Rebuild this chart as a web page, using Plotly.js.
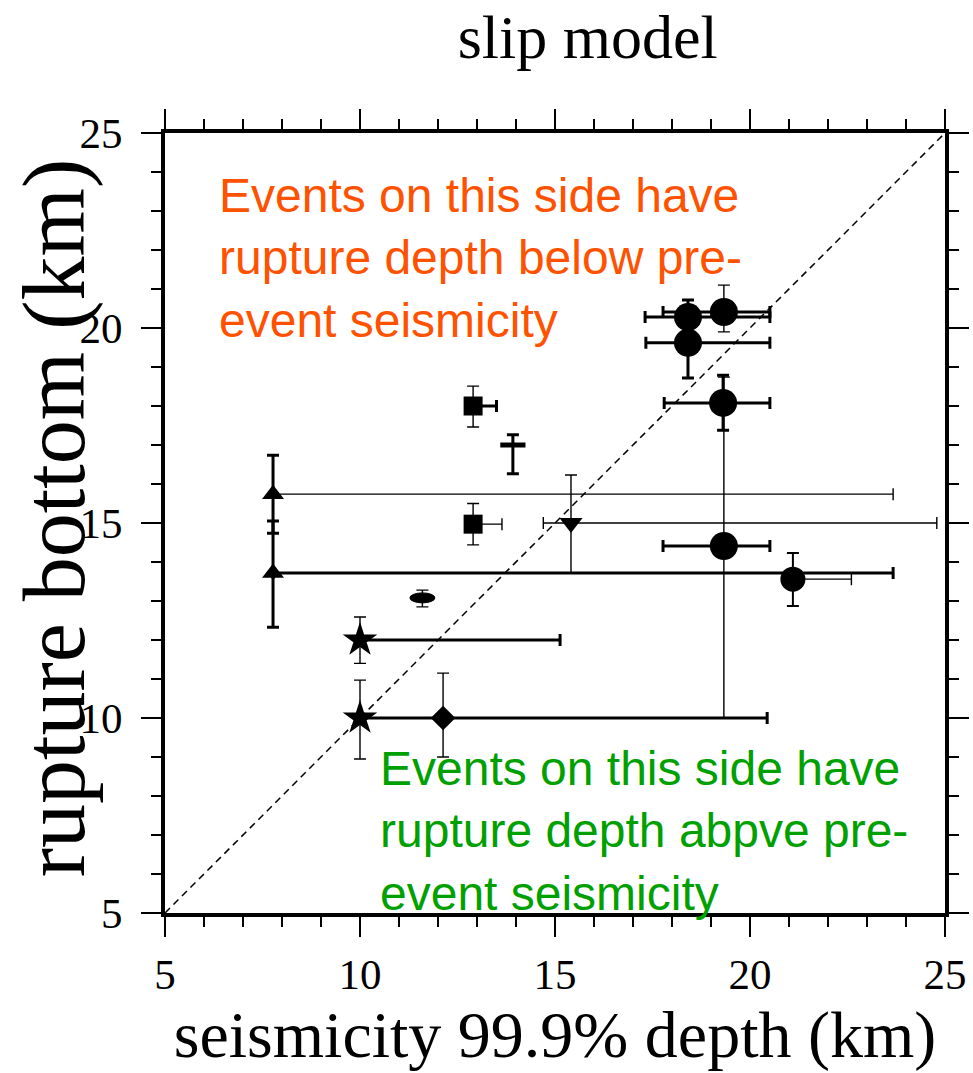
<!DOCTYPE html>
<html>
<head>
<meta charset="utf-8">
<script src="https://cdn.plot.ly/plotly-3.0.1.min.js"></script>
<style>html,body{margin:0;padding:0;background:#fff;}</style>
</head>
<body>
<div id="chart" style="width:973px;height:1073px;"></div>
<script>
// ---------- data ----------
const axisRange = [5, 25];
const majorTicks = [5, 10, 15, 20, 25];
const tickLabels = ['5', '10', '15', '20', '25'];

// seismicity 99.9% depth (km) and its error range
const seisDepth = [18.41, 19.33, 18.41, 19.31, 19.33, 21.10, 7.77, 7.77, 15.41, 12.90, 12.90, 13.92, 11.60, 10.00, 10.00, 12.13];
const seisLow   = [17.31, 17.77, 17.33, 17.80, 17.77, 21.10, 7.77, 7.77, 14.70, 12.90, 12.90, 13.92, 11.60, 10.00, 10.00, 10.00];
const seisHigh  = [20.51, 20.51, 20.51, 20.51, 20.51, 22.60, 23.67, 23.67, 24.79, 13.50, 13.64, 13.92, 11.60, 15.13, 10.00, 20.44];
// rupture bottom (km) and its error range
const ruptureBottom = [20.28, 20.41, 19.62, 18.08, 14.41, 13.56, 15.74, 13.72, 15.00, 18.00, 14.97, 17.00, 13.08, 12.00, 10.00, 10.00];
const ruptureLow    = [19.85, 19.90, 18.72, 17.38, 10.00, 12.87, 14.74, 12.33, 13.72, 17.46, 14.44, 16.26, 12.85, 11.40, 8.95, 9.00];
const ruptureHigh   = [20.72, 21.10, 20.20, 18.79, 18.74, 14.23, 16.74, 15.05, 16.23, 18.51, 15.50, 17.26, 13.28, 12.59, 10.97, 11.15];

const titleText = 'slip model';
const xTitleText = 'seismicity 99.9% depth (km)';
const yTitleText = 'rupture bottom (km)';
const noteAbove = 'Events on this side have<br>rupture depth below pre-<br>event seismicity';
const noteBelow = 'Events on this side have<br>rupture depth abpve pre-<br>event seismicity';

// ---------- styles ----------
const THICK = 3, THIN = 1.4;
const eventStyle = [
  {sym:'circle', size:28, ex:THICK, ey:THICK},
  {sym:'circle', size:28, ex:THICK, ey:THIN},
  {sym:'circle', size:28, ex:THICK, ey:THICK},
  {sym:'circle', size:28, ex:THICK, ey:THICK},
  {sym:'circle', size:28, ex:THICK, ey:THIN},
  {sym:'circle', size:25, ex:THIN, ey:2},
  {sym:'triangle-up', size:19, ex:THIN, ey:THICK},
  {sym:'triangle-up', size:19, ex:THICK, ey:THICK},
  {sym:'triangle-down', size:20, ex:THIN, ey:THIN},
  {sym:'square', size:19, ex:THICK, ey:THIN},
  {sym:'square', size:19, ex:THIN, ey:THIN},
  {sym:'line-ew', size:18, ex:THICK, ey:THICK, lw:5},
  {sym:'ellipse', size:0, ex:THIN, ey:THIN},
  {sym:'star', size:26, ex:THICK, ey:THIN},
  {sym:'star', size:26, ex:THICK, ey:THIN},
  {sym:'diamond', size:19, ex:THICK, ey:THIN}
];

const traces = [];
const shapes = [];

// 1:1 reference line
traces.push({
  x: axisRange, y: axisRange, mode: 'lines', hoverinfo: 'skip',
  line: {color: 'black', width: 1.5, dash: '7px,5px'}
});

seisDepth.forEach((xv, i) => {
  const st = eventStyle[i];
  const yv = ruptureBottom[i];
  const xp = +(seisHigh[i] - xv).toFixed(3), xm = +(xv - seisLow[i]).toFixed(3);
  const yp = +(ruptureHigh[i] - yv).toFixed(3), ym = +(yv - ruptureLow[i]).toFixed(3);
  const t = {
    x: [xv], y: [yv], type: 'scatter', mode: 'markers',
    error_x: {type: 'data', symmetric: false, array: [xp], arrayminus: [xm],
              visible: (xp + xm) > 0, thickness: st.ex, width: 6, color: 'black'},
    error_y: {type: 'data', symmetric: false, array: [yp], arrayminus: [ym],
              visible: (yp + ym) > 0, thickness: st.ey, width: 6, color: 'black'}
  };
  if (st.sym === 'ellipse') {
    t.marker = {size: 1, color: 'rgba(0,0,0,0)'};
    shapes.push({type: 'circle', xref: 'x', yref: 'y', xsizemode: 'pixel', ysizemode: 'pixel',
      xanchor: xv, yanchor: yv, x0: -12.5, x1: 12.5, y0: -5, y1: 5,
      fillcolor: 'black', line: {color: 'black', width: 1}, layer: 'above'});
  } else if (st.sym === 'line-ew') {
    t.marker = {symbol: st.sym, size: st.size, color: 'black', line: {color: 'black', width: st.lw}};
  } else {
    t.marker = {symbol: st.sym, size: st.size, color: 'black', line: {width: 0}};
  }
  traces.push(t);
});

const serif = 'Liberation Serif, Times New Roman, serif';
const sans = 'Liberation Sans, Arial, sans-serif';

const axisCommon = {
  range: axisRange, tickmode: 'array', tickvals: majorTicks, ticktext: tickLabels,
  ticks: 'outside', ticklen: 20, tickwidth: 2, tickcolor: 'black',
  showline: true, linewidth: 4, linecolor: 'black', mirror: 'allticks',
  showgrid: false, zeroline: false, fixedrange: true,
  tickfont: {family: serif, size: 43, color: 'black'},
  minor: {dtick: 1, tick0: 5, ticks: 'outside', ticklen: 10, tickwidth: 2, tickcolor: 'black', showgrid: false}
};

const layout = {
  width: 973, height: 1073,
  margin: {l: 165, r: 28, t: 133, b: 160},
  paper_bgcolor: 'white', plot_bgcolor: 'white',
  showlegend: false,
  title: {text: titleText, font: {family: serif, size: 62, color: 'black'},
          x: 0.604, xref: 'container', xanchor: 'center', y: 0.966, yref: 'container', yanchor: 'middle'},
  xaxis: Object.assign({}, axisCommon, {
    title: {text: xTitleText, font: {family: serif, size: 66, color: 'black'}, standoff: 10}
  }),
  yaxis: Object.assign({}, axisCommon, {
    ticklabelstandoff: 10,
    title: {text: ''}
  }),
  shapes: shapes,
  annotations: [
    {text: yTitleText, textangle: -90, xref: 'paper', yref: 'paper', x: -0.1423, y: 0.506,
     xanchor: 'center', yanchor: 'middle', showarrow: false,
     font: {family: serif, size: 88, color: 'black'}},
    {text: noteAbove, xref: 'paper', yref: 'paper', x: 0.0667, y: 0.957, xanchor: 'left', yanchor: 'top',
     align: 'left', showarrow: false, font: {family: sans, size: 48, color: '#FF5200'}},
    {text: noteBelow, xref: 'paper', yref: 'paper', x: 0.273, y: 0.222, xanchor: 'left', yanchor: 'top',
     align: 'left', showarrow: false, font: {family: sans, size: 48, color: '#00A000'}}
  ]
};

Plotly.newPlot('chart', traces, layout, {displayModeBar: false, staticPlot: true});
</script>
</body>
</html>
